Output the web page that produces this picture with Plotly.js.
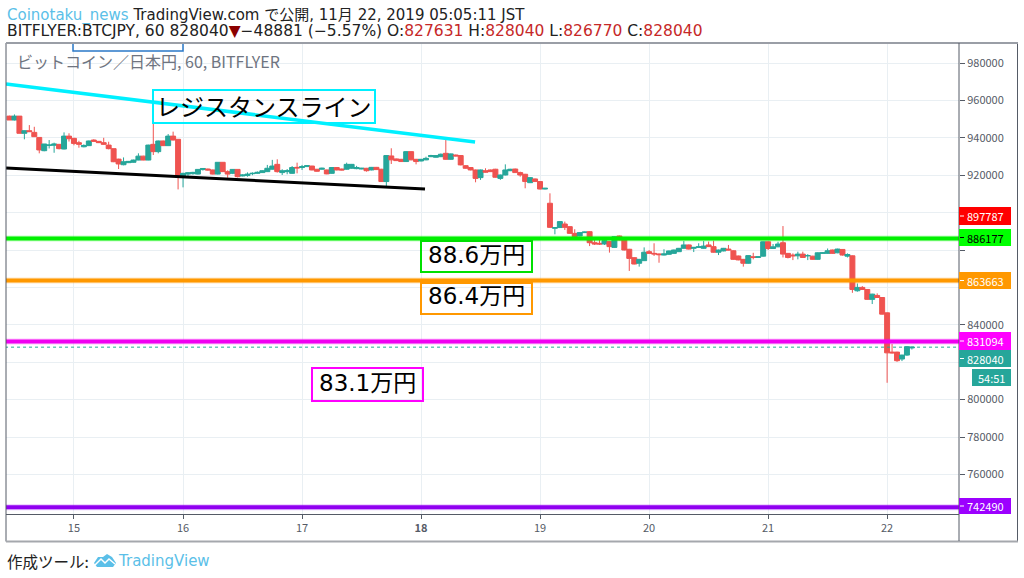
<!DOCTYPE html>
<html><head><meta charset="utf-8">
<script src="https://cdn.plot.ly/plotly-3.0.1.min.js"></script>
<style>html,body{margin:0;padding:0;background:#fff}#c{width:1024px;height:578px}</style></head>
<body><div id="c"></div>
<script>
const opens=[951.6,949.5,951.6,942.4,943.8,942.9,940.2,933.1,936,936,936.5,934,940.9,939.7,937.4,935.2,935.8,938.8,938.1,937.4,936.1,934.2,928.6,925.6,926.7,926.9,928.1,930.2,928.1,936.5,932.6,938.3,935.8,940.9,939.2,919.2,920.6,920.8,920.6,923,923.3,922.8,920.6,926.9,921.9,921,923.1,919.6,919.8,920.8,921,
921.4,921.9,923.2,925.8,921.4,921.9,921,924.2,924.1,924.6,924.9,923.2,923.2,922.8,921,924.1,923.3,923.2,923.7,923.5,923.3,923.7,922.8,924.2,923.2,916.6,930.3,928.7,928.5,927.3,932.6,928.5,927.6,928.2,929.9,929.6,929.9,931.7,928.5,930.8,930.5,925.1,924.1,922.8,918.7,922.4,922.8,923.2,918.3,920.1,922.4,923.3,921.4,920.5,916,918,916.6,912.6,905,891.6,892,
893.9,892.5,888.9,887.5,889.3,889.8,883.9,883.6,883.2,884.5,881.4,887.5,885.7,880.4,875.9,872.9,874.3,879.1,878.2,877.9,877.3,877.7,878.2,879.1,880.9,882.7,880.9,881.4,880.9,882.7,881.8,878.8,879.5,880.5,879.6,876.8,875,872.9,
876.4,876,876.7,884.4,880.8,881.7,883.9,878.2,877.3,876.9,877.8,876.9,876.7,875,878.2,878.2,880,878.5,880.3,876.7,876.9,858.2,860,858.9,853.6,855.7,854.6,846.4,825.4,825.4,821.7,823.8,827.631];
const highs=[951.8,952.5,951.6,943.9,946.8,945.9,940.2,936.7,938.8,937.4,936.5,942.9,942.4,940,938.4,936.5,938.5,939.2,938.3,940,937.9,934.2,928.8,929.5,927.6,928.3,931.7,930.4,936.3,947.7,938.5,938.5,942,943.3,939.2,921.3,921.6,921.8,923.3,923.8,923.5,923,927,927,922.6,923.3,923.1,920.4,921.5,921.5,922,
922.6,925.5,928.2,928.5,923.2,923.3,924.9,926.7,925.5,925.3,925,923.3,924,923,924.3,924.2,923.5,926.7,926,925,923.9,923.9,924.4,924.4,923.4,930.7,934.4,928.9,928.7,932.8,932.8,928.7,928.7,929.9,930.9,930.7,931.6,938.9,931.6,931,930.7,925.3,924.3,923,923,923.7,923,923.4,920.3,925.8,923.4,923.5,921.9,920.7,919,918.2,916.8,913.2,910.3,892.2,895.4,
895.2,892.7,891.1,889.5,889.8,890,885.4,885.4,885.7,884.7,887.3,887.7,885.9,880.6,876.1,875.2,881.4,880,883.6,878.1,880.4,879.7,880.2,881.1,884.8,882.9,881.6,883.6,884.8,884.5,885,880.2,881.1,882.7,879.8,877,875.2,877.2,
878.5,876.6,884.6,884.6,883.2,884.4,892.8,878.4,878.2,879.1,879.1,877.8,876.9,878.7,878.7,880.8,880.2,880.7,880.5,878.2,877.1,862.1,860.7,859.1,856.6,856.8,854.8,846.6,829.7,825.6,824,828.5,828.04];
const lows=[949.5,949.3,942.4,939.2,943.1,940.5,931.7,932.8,934.3,932,933.8,933.8,938,936,934.7,934.9,935.6,938,937.2,936.3,933.8,927,923.3,925.3,926.5,926.7,928,928,928,930.8,931.7,935.6,935.6,938.6,912.4,913.5,918.5,920.3,920.4,922.5,922.5,920.4,920.4,921.7,918.6,920.6,918.8,919.4,919.2,920,920.8,
921.2,921.7,923,921.4,920.1,920.5,920.8,921,922.8,924.4,922.6,921.9,923,920.5,920.8,922.6,922.6,923,923.5,923.2,923.2,921.9,922.6,922.8,916.4,913.9,926,927.6,927.1,927.1,928,925.8,927.4,928,929.7,929.4,929.7,928.3,928.3,930.1,925.3,923.5,922.6,916.2,917.5,921.4,921.7,918.7,917.5,919.9,922.2,921.2,919.2,913,915.8,916.4,912.4,912.4,891.9,888.4,891.8,
890.7,888.7,886.9,887.3,889.1,882.1,882.7,882.7,882.7,878.6,881.2,885.2,879.8,868.8,872.3,871.1,874.1,878,876.8,873.2,877.1,877.5,878,878.9,880.7,880.3,878.9,881.2,880.7,881.6,878.6,877.3,879.3,879.8,874.8,874.5,871.1,872.7,
875,875.8,876.5,880,880.6,881.5,876,875.5,874.6,875,875.8,874.6,874.8,874.8,878,878,878,878.3,877,876,857.1,857.7,858.7,853.4,851.1,854.4,845.5,809,824.7,820.2,820.6,823.4,826.77];
const closes=[949.5,951.6,942.4,943.8,943.3,940.6,933.5,936.7,936.1,936.7,934.2,940.9,939.5,937,936.5,935.9,938.3,938.1,937.4,936.5,934.2,927.2,926,927.2,927.4,928.1,930.2,928.1,936.1,932.6,938.3,935.8,940.9,938.8,918.8,921,921.3,921.5,923.1,923.6,922.8,920.6,926.9,921.9,920.6,923.1,919.2,920.1,920.6,921,921.5,
922.4,923.7,924.9,921.9,922.4,922.4,924.1,923.9,924.6,925.1,922.8,922.1,923.7,920.7,924.1,922.8,922.8,925.8,925.8,924.1,923.7,922.4,924.2,923,916.6,930.5,928.2,927.8,927.3,932.6,928.2,927.3,928.5,929,930.5,930.5,931.2,928.5,931.4,930.3,925.5,923.7,922.8,918.3,922.8,921.6,921.9,918.9,920.1,922.8,923.2,921.4,920.1,916.6,918.7,916.6,912.6,913,892.1,892,895.2,
892.1,888.9,887.1,889.3,889.6,883.9,883.2,883.2,885,881.8,887.1,885.4,880,875.5,872.5,875,878.8,878.2,877.9,877.5,877.9,879.5,880,880.9,882.7,880.5,881.4,881.7,882.1,881.8,878.8,880,880.9,880,875,874.7,872.9,877,
876,876.4,884.4,880.8,881.7,883.2,877.8,876,876.9,877.8,876,877,875,878.5,878.5,879.6,878.2,880.5,877.3,877.6,858.9,860,858.9,853.6,856.4,854.6,845.7,825,825,820.8,823.8,828.3,828.04];
const tickIndex=[13,35,59,83,107,129,153,177];
const dayLabels=['15','16','17','<b>18</b>','19','20','21','22'];
const priceTicks=[760000,780000,800000,820000,840000,860000,880000,900000,920000,940000,960000,980000];
const priceLabels=['760000','780000','800000','','840000','','','','920000','940000','960000','980000'];
const levelGreen=886177, levelOrange=863663, levelMagenta=831094, levelPurple=742490, lastPrice=828040;
const resistX=[-0.7,93.9], resistY=[968800,937750];
const supportX=[-0.7,83.8], supportY=[923850,912600];

const W=1024,H=578,L=6,R=959,T=43,B=514;
const px=x=>(x-L)/(R-L), py=y=>(B-y)/(B-T);
const k=a=>a.map(v=>Math.round(v*1000));
const xs=opens.map((_,i)=>i);
const xr=[-0.9,191.5];
const hl=(v,c,w,o)=>({type:'scatter',mode:'lines',x:xr,y:[v,v],line:{color:c,width:w},opacity:o||1,hoverinfo:'skip',showlegend:false});
const traces=[
 hl(levelGreen,'#00ff00',6,.22),hl(levelOrange,'#ff9800',6,.22),hl(levelMagenta,'#ff00ff',6,.22),hl(levelPurple,'#9c00ff',6,.22),
 {type:'scatter',mode:'lines',x:xr,y:[lastPrice,lastPrice],line:{color:'#26a69a',width:1,dash:'dot'},showlegend:false},
 {type:'candlestick',x:xs,open:k(opens),high:k(highs),low:k(lows),close:k(closes),width:0.88,whiskerwidth:0,
  increasing:{line:{color:'#26a69a',width:1},fillcolor:'#26a69a'},decreasing:{line:{color:'#ef5350',width:1},fillcolor:'#ef5350'},showlegend:false},
 hl(levelGreen,'#00f000',4),hl(levelOrange,'#ff9800',4),hl(levelMagenta,'#f000f0',4),hl(levelPurple,'#9000f0',4),
 {type:'scatter',mode:'lines',x:resistX,y:resistY,line:{color:'#00f0ff',width:3.5},showlegend:false},
 {type:'scatter',mode:'lines',x:supportX,y:supportY,line:{color:'#000',width:3},showlegend:false}
];
const JP='"Noto Sans CJK JP","Noto Sans",sans-serif';
const DV='"DejaVu Sans","Noto Sans CJK JP",sans-serif';
const shapes=[],anns=[];
const rect=(x0,y0,x1,y1,o)=>shapes.push(Object.assign({type:'rect',xref:'paper',yref:'paper',x0:px(x0),x1:px(x1),y0:py(y1),y1:py(y0),layer:'above'},o));
const txt=(x,y,t,size,color,xa,fam)=>anns.push({xref:'paper',yref:'paper',x:px(x),y:py(y),text:t,showarrow:false,xanchor:xa||'left',yanchor:'middle',font:{family:fam||JP,size:size,color:color},borderpad:0});
rect(L,T,1017.5,541.5,{line:{color:'#555b66',width:1}});
shapes.push({type:'line',xref:'paper',yref:'paper',x0:px(L),x1:px(1018),y0:py(43),y1:py(43),line:{color:'#9a9ea6',width:2},layer:'above'});
shapes.push({type:'line',xref:'paper',yref:'paper',x0:px(L),x1:px(1018),y0:py(541.5),y1:py(541.5),line:{color:'#a5a8ad',width:2},layer:'above'});
shapes.push({type:'line',xref:'paper',yref:'paper',x0:px(R),x1:px(R),y0:py(43),y1:py(541),line:{color:'#555b66',width:1},layer:'above'});
shapes.push({type:'path',xref:'paper',yref:'paper',path:`M${px(73)},${py(44)}L${px(73)},${py(51)}L${px(183)},${py(51)}L${px(183)},${py(44)}`,line:{color:'#2a78c8',width:1.5},layer:'above'});
rect(153,90,375,123,{line:{color:'#00f0ff',width:2}});
rect(421,241,532,272,{line:{color:'#00e000',width:2}});
rect(421,283,532,314,{line:{color:'#ff9800',width:2}});
rect(312,368,423,401,{line:{color:'#ff00ff',width:2}});
txt(264,106,'レジスタンスライン',24,'#000','center');
txt(476.5,255,'88.6万円',23,'#000','center',DV);
txt(476.5,296,'86.4万円',23,'#000','center',DV);
txt(367.5,383,'83.1万円',23,'#000','center',DV);
const labels=[[207,225,'897787','#ff0000','#fff'],[229,246,'886177','#00ff00','#000'],[272,289,'863663','#ff9800','#fff'],[332,350,'831094','#ff00ff','#fff'],[350,367,'828040','#26a69a','#fff'],[498,514,'742490','#9c00ff','#fff']];
labels.forEach(l=>{rect(959,l[0],1011,l[1],{fillcolor:l[3],line:{width:0}});
 shapes.push({type:'line',xref:'paper',yref:'paper',x0:px(960),x1:px(964),y0:py((l[0]+l[1])/2),y1:py((l[0]+l[1])/2),line:{color:l[4],width:1},layer:'above'});
 txt(985,(l[0]+l[1])/2,l[2],11,l[4],'center');});
rect(972,369,1011,386,{fillcolor:'#26a69a',line:{width:0}});
txt(991.5,377.5,'54:51',11,'#fff','center');
txt(6,15,'<span style="color:#5bbfe8">Coinotaku_news</span> TradingView.com で公開, 11月 22, 2019 05:05:11 JST',15,'#222','left',DV);
txt(6,31,'BITFLYER:BTCJPY, 60 828040<span style="color:#8b0000">▼</span>−48881 (−5.57%) O:<span style="color:#c62828">827631</span> H:<span style="color:#c62828">828040</span> L:<span style="color:#c62828">826770</span> C:<span style="color:#c62828">828040</span>',15.5,'#222','left',DV);
txt(16,61,'ビットコイン／日本円, 60, BITFLYER',16,'#6e7480');
txt(6,561,'作成ツール:',15.5,'#222');
txt(117,561,'TradingView',15,'#5bbfe8','left',DV);
const P=(x,y)=>`${px(x)},${py(y)}`;
shapes.push({type:'path',xref:'paper',yref:'paper',fillcolor:'#5bbfe8',line:{width:0},layer:'above',
 path:`M${P(94,563)}L${P(98,557)}L${P(103,557)}L${P(107,554)}L${P(112,557)}L${P(116,563)}L${P(113,567)}L${P(97,567)}Z`});
shapes.push({type:'path',xref:'paper',yref:'paper',line:{color:'#fff',width:1.5},layer:'above',
 path:`M${P(95,565)}L${P(101,559)}L${P(105,563)}L${P(109,559)}L${P(115,564)}`});

const layout={width:W,height:H,autosize:false,paper_bgcolor:'#fff',plot_bgcolor:'#fff',showlegend:false,dragmode:false,boxgap:0,boxgroupgap:0,
 margin:{l:L,r:W-R,t:T,b:H-B,pad:0},
 font:{family:JP,color:'#555b66',size:11},
 xaxis:{type:'linear',range:[-0.706,191.5],tickmode:'array',tickvals:tickIndex,ticktext:dayLabels,rangeslider:{visible:false},
  showgrid:true,gridcolor:'#e9eff3',gridwidth:1,zeroline:false,showline:true,linecolor:'#555b66',linewidth:1,ticks:'outside',ticklen:4,tickcolor:'#555b66',tickfont:{size:11,color:'#555b66',family:JP}},
 yaxis:{side:'right',range:[738824,990695],tickmode:'array',tickvals:priceTicks,ticktext:priceLabels,
  showgrid:true,gridcolor:'#e9eff3',gridwidth:1,zeroline:false,showline:false,ticks:'outside',ticklen:5,tickcolor:'#555b66',tickfont:{size:11,color:'#555b66',family:JP},automargin:false},
 shapes:shapes,annotations:anns};
Plotly.newPlot('c',traces,layout,{staticPlot:true,displayModeBar:false});
</script></body></html>
